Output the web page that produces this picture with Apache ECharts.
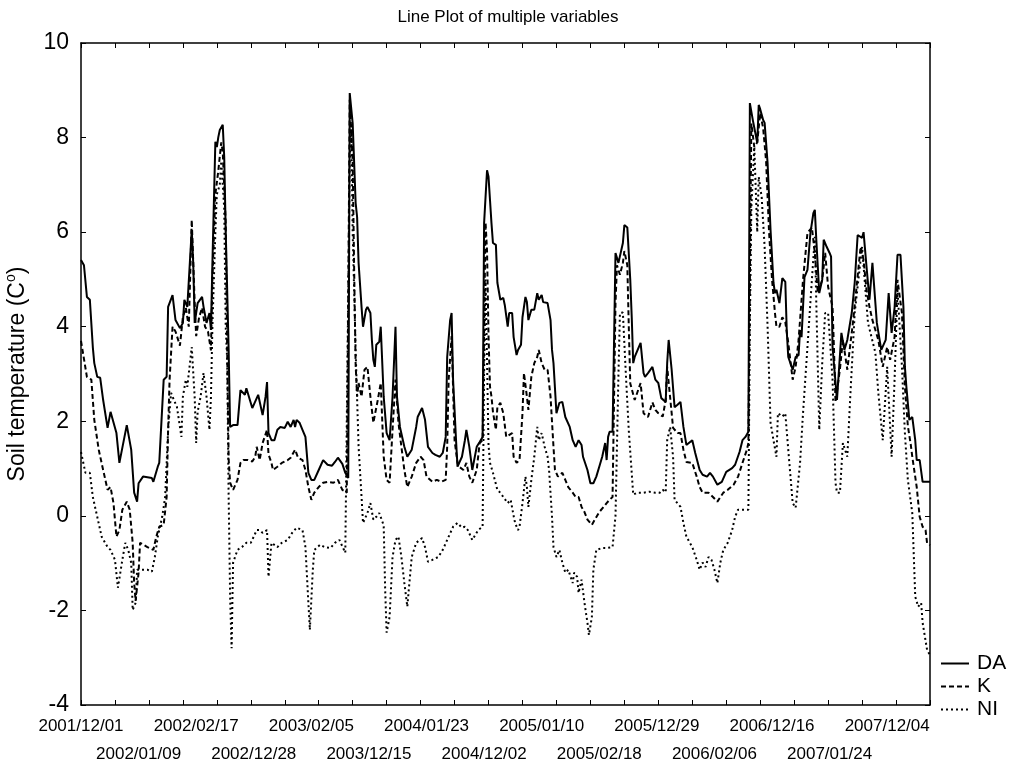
<!DOCTYPE html>
<html><head><meta charset="utf-8">
<script src="https://cdn.jsdelivr.net/npm/echarts/dist/echarts.min.js"></script>
<style>html,body{margin:0;padding:0;background:#fff}#chart{width:1016px;height:762px}</style>
</head><body><div id="chart"></div>
<script>
// Winter seasons covered by the daily series (one category per day)
const seasons = [
  ['2001-12-01','2002-02-28'], ['2002-12-01','2003-02-28'], ['2003-11-30','2004-02-29'],
  ['2004-12-01','2005-02-28'], ['2005-12-01','2006-02-28'], ['2006-11-30','2007-02-28'],
  ['2007-12-01','2008-01-02']
];
const seriesNames = ['DA', 'K', 'NI'];
const yTicks = {min: -4, max: 10, step: 2};

// [day index, value]
const daData = [[0,5.41],[2,5.3],[4,4.63],[6,4.57],[7,4.57],[8,3.57],[9,3.23],[11,2.94],[13,2.92],[15,2.45],[18,1.86],[20,2.2],[21,2.17],[24,1.75],[26,1.12],[31,1.92],[34,1.4],[36,0.49],[38,0.3],[39,0.69],[42,0.83],[48,0.8],[49,0.72],[52,1.04],[53,1.12],[56,2.88],[58,2.94],[59,4.42],[62,4.67],[64,4.14],[67,3.97],[69,4.08],[70,4.57],[72,4.42],[75,6.05],[76,5.35],[77,4.08],[79,4.5],[82,4.63],[83,4.42],[85,4.08],[87,4.29],[88,3.93],[89,5.35],[91,7.91],[92,7.8],[93,8.01],[94,8.16],[96,8.27],[97,7.59],[98,6.05],[100,3.5],[101,1.88],[103,1.92],[106,1.92],[108,2.66],[109,2.7],[111,2.56],[112,2.7],[116,2.28],[120,2.56],[123,2.13],[125,2.52],[126,2.83],[127,1.75],[129,1.6],[131,1.6],[133,1.82],[135,1.88],[138,1.86],[140,1.99],[142,1.88],[144,2.03],[145,1.88],[146,2.03],[148,1.97],[150,1.82],[152,1.67],[154,0.91],[156,0.76],[158,0.76],[161,0.97],[164,1.18],[167,1.08],[170,1.06],[172,1.14],[174,1.23],[177,1.1],[179,0.91],[181,0.8],[182,8.94],[184,8.3],[186,6.62],[187,6.32],[188,5.35],[190,4.42],[191,4.0],[193,4.36],[194,4.42],[196,4.29],[197,3.72],[198,3.3],[199,3.15],[200,3.62],[202,3.68],[203,4.0],[205,2.52],[207,1.75],[209,1.6],[211,2.52],[213,4.0],[214,2.52],[216,1.88],[219,1.46],[221,1.25],[224,1.4],[227,1.88],[228,2.09],[231,2.28],[233,2.03],[235,1.46],[238,1.33],[240,1.29],[241,1.33],[243,1.25],[245,1.33],[247,1.67],[248,3.36],[250,4.14],[251,4.29],[252,2.88],[254,1.6],[255,1.04],[258,1.25],[260,1.6],[261,1.82],[263,1.46],[265,0.97],[268,1.46],[270,1.56],[272,1.67],[273,6.19],[275,7.31],[276,7.17],[277,6.68],[278,6.19],[279,5.77],[281,5.73],[282,4.93],[284,4.57],[286,4.61],[287,4.46],[289,4.0],[290,4.29],[292,4.29],[293,3.78],[295,3.4],[296,3.51],[298,3.62],[299,4.2],[301,4.63],[302,4.52],[303,4.14],[305,4.36],[307,4.36],[309,4.71],[310,4.57],[312,4.67],[313,4.52],[316,4.5],[318,4.14],[319,3.51],[320,3.23],[322,2.17],[324,2.39],[326,2.41],[328,2.09],[329,2.07],[331,1.88],[333,1.6],[335,1.46],[337,1.6],[339,1.5],[340,1.25],[343,0.97],[345,0.69],[347,0.69],[349,0.83],[351,1.04],[353,1.25],[355,1.54],[356,1.18],[357,1.67],[358,1.78],[360,1.78],[362,5.56],[364,5.35],[367,5.77],[368,6.15],[370,6.1],[372,4.99],[373,4.2],[374,3.23],[375,3.36],[379,3.66],[381,3.02],[382,2.94],[384,3.02],[387,3.15],[389,2.88],[391,2.81],[393,2.49],[396,2.41],[397,3.23],[398,3.72],[400,3.1],[402,2.3],[404,2.35],[406,2.41],[408,1.88],[410,1.5],[414,1.6],[416,1.33],[419,0.97],[421,0.87],[424,0.83],[426,0.91],[428,0.83],[431,0.66],[432,0.7],[434,0.72],[437,0.93],[441,1.01],[443,1.08],[446,1.35],[448,1.6],[450,1.67],[452,1.78],[453,8.73],[455,8.37],[458,7.89],[459,8.69],[460,8.6],[462,8.37],[463,8.31],[465,7.46],[467,6.05],[469,4.93],[470,4.71],[471,4.78],[473,4.5],[475,5.03],[477,4.95],[478,3.9],[479,3.36],[482,3.09],[484,3.36],[486,3.4],[487,3.93],[488,3.78],[490,5.05],[492,5.2],[494,5.98],[496,6.4],[497,6.47],[498,5.84],[500,4.71],[502,4.99],[503,5.84],[505,5.69],[507,5.56],[508,5.48],[509,3.57],[512,2.45],[515,3.87],[517,3.51],[519,3.72],[522,4.29],[524,4.93],[526,5.94],[529,5.88],[530,6.0],[532,5.27],[534,4.57],[536,5.35],[539,4.08],[542,3.51],[545,3.72],[547,4.71],[549,3.87],[551,4.4],[553,5.52],[555,5.52],[557,4.42],[558,3.15],[559,2.73],[561,2.03],[563,2.09],[565,1.6],[566,1.18],[568,1.18],[570,0.72],[575,0.72]];

const kData = [[0,3.7],[1,3.66],[4,2.94],[7,2.88],[9,2.03],[12,1.4],[15,0.97],[18,0.55],[20,0.61],[22,0.27],[24,-0.44],[26,-0.3],[28,0.13],[31,0.3],[33,0.13],[35,-0.57],[36,-1.42],[37,-1.8],[39,-1.2],[40,-0.57],[45,-0.66],[49,-0.72],[51,-0.44],[53,-0.23],[56,-0.19],[58,0.4],[59,1.82],[60,2.88],[62,4.0],[64,3.9],[67,3.6],[69,4.2],[71,4.4],[73,4.0],[75,6.26],[77,4.5],[78,3.8],[80,4.2],[82,4.4],[84,4.0],[86,3.9],[88,3.5],[89,5.0],[91,6.8],[93,7.3],[95,7.9],[96,7.7],[98,6.2],[99,3.5],[100,1.2],[101,0.7],[103,0.55],[106,0.76],[108,1.12],[110,1.18],[113,1.18],[116,1.15],[118,1.25],[119,1.46],[121,1.18],[123,1.54],[126,1.82],[127,1.3],[129,1.12],[130,0.97],[133,1.04],[136,1.12],[140,1.18],[142,1.23],[145,1.4],[147,1.23],[150,1.18],[152,0.97],[154,0.61],[156,0.34],[158,0.49],[161,0.61],[164,0.7],[167,0.72],[171,0.7],[174,0.76],[177,0.55],[180,0.49],[182,8.8],[184,7.5],[185,5.2],[186,3.2],[187,2.52],[188,2.81],[190,2.52],[192,3.09],[194,3.15],[196,2.52],[198,1.97],[199,1.97],[201,2.45],[203,2.81],[205,1.25],[207,0.76],[209,0.7],[211,1.82],[213,2.88],[215,1.97],[217,1.46],[219,0.97],[221,0.61],[224,0.83],[227,1.12],[230,1.25],[232,1.18],[234,0.83],[238,0.72],[241,0.76],[244,0.72],[247,0.76],[248,1.46],[249,2.88],[251,3.8],[253,1.6],[255,1.12],[256,1.04],[259,0.97],[261,1.12],[263,0.83],[265,0.7],[268,0.97],[270,1.54],[272,1.6],[274,6.2],[275,5.6],[276,3.8],[277,2.73],[278,2.52],[279,2.2],[281,1.82],[282,2.3],[284,2.39],[286,2.17],[288,1.67],[289,1.67],[292,1.75],[293,1.25],[295,1.12],[297,1.18],[299,2.17],[300,3.02],[302,2.52],[303,2.24],[305,2.94],[307,3.23],[309,3.36],[310,3.51],[312,3.23],[314,3.09],[316,3.09],[318,2.52],[320,1.46],[321,0.97],[323,0.83],[326,0.91],[328,0.76],[330,0.61],[333,0.49],[335,0.4],[337,0.4],[339,0.19],[341,0.08],[343,-0.08],[346,-0.19],[348,-0.08],[351,0.08],[354,0.19],[356,0.27],[358,0.34],[360,0.4],[362,4.5],[363,5.3],[365,5.1],[367,5.35],[368,5.6],[370,5.3],[371,4.0],[372,2.8],[375,2.45],[379,2.81],[381,2.17],[384,2.09],[387,2.4],[389,2.24],[391,2.17],[394,2.1],[396,2.45],[397,3.15],[398,3.15],[401,1.86],[404,1.75],[406,1.75],[408,1.4],[410,1.14],[414,1.12],[417,0.83],[419,0.61],[421,0.49],[425,0.49],[428,0.4],[431,0.3],[435,0.49],[438,0.55],[442,0.66],[445,0.83],[448,1.12],[451,1.4],[452,1.54],[454,8.3],[456,7.8],[458,7.9],[460,8.52],[462,8.2],[464,7.5],[466,6.0],[468,5.0],[470,4.29],[471,4.0],[473,4.0],[475,4.2],[477,4.1],[479,3.66],[482,2.88],[484,3.15],[486,3.72],[489,4.99],[492,5.98],[495,6.1],[497,5.56],[499,4.71],[502,4.99],[504,5.56],[506,4.84],[509,4.42],[510,3.5],[511,2.4],[514,3.1],[516,3.72],[519,3.09],[523,4.14],[528,5.69],[530,5.41],[532,4.78],[534,4.42],[536,4.14],[540,3.72],[543,3.15],[546,3.57],[548,3.3],[551,3.78],[553,4.99],[556,4.29],[558,2.73],[560,1.9],[562,1.5],[563,1.25],[566,0.61],[568,-0.02],[570,-0.23],[572,-0.3],[573,-0.57],[575,-0.62]];

const niData = [[0,1.35],[3,0.91],[6,0.91],[8,0.4],[11,-0.02],[14,-0.44],[18,-0.66],[20,-0.72],[23,-0.93],[25,-1.52],[28,-0.93],[30,-0.57],[32,-0.72],[34,-0.99],[35,-1.99],[37,-1.84],[38,-1.14],[40,-1.14],[45,-1.14],[48,-1.18],[50,-0.87],[52,-0.44],[55,-0.02],[57,0.4],[59,1.82],[61,2.6],[62,2.52],[65,2.3],[67,1.88],[68,1.67],[69,2.52],[71,2.88],[72,2.73],[75,3.57],[77,2.5],[78,1.54],[79,2.2],[81,2.52],[83,3.02],[85,2.52],[87,1.82],[88,2.5],[89,4.0],[91,6.0],[92,6.8],[94,7.0],[95,7.5],[97,6.5],[98,4.0],[99,3.3],[100,0.4],[101,-1.71],[102,-2.8],[103,-0.99],[106,-0.72],[109,-0.66],[112,-0.57],[115,-0.57],[117,-0.44],[119,-0.3],[121,-0.3],[123,-0.36],[126,-0.3],[127,-1.29],[129,-0.57],[133,-0.66],[136,-0.57],[140,-0.51],[143,-0.36],[146,-0.25],[150,-0.3],[152,-0.66],[154,-1.84],[155,-2.41],[157,-1.14],[158,-0.72],[162,-0.61],[165,-0.66],[169,-0.68],[172,-0.57],[175,-0.51],[179,-0.78],[180,-0.8],[182,7.5],[183,8.3],[184,6.0],[186,3.5],[188,1.46],[190,0.4],[191,-0.15],[194,0.06],[196,0.27],[198,-0.08],[200,-0.02],[202,0.06],[205,-0.2],[206,-1.56],[207,-2.47],[209,-2.14],[211,-0.87],[213,-0.51],[215,-0.44],[217,-0.87],[219,-1.42],[221,-1.92],[222,-1.56],[224,-0.87],[227,-0.57],[231,-0.47],[233,-0.66],[235,-0.97],[238,-0.93],[242,-0.87],[245,-0.72],[249,-0.44],[252,-0.23],[255,-0.15],[258,-0.25],[260,-0.23],[262,-0.3],[265,-0.51],[269,-0.3],[272,-0.23],[273,3.0],[274,5.0],[276,1.5],[277,1.12],[279,0.91],[282,0.55],[284,0.49],[286,0.4],[289,0.27],[291,0.34],[293,0.0],[294,-0.15],[296,-0.3],[297,-0.23],[299,0.27],[301,0.83],[302,0.61],[303,0.19],[305,0.76],[307,1.25],[309,1.88],[310,1.6],[312,1.75],[314,1.46],[316,1.25],[317,0.97],[319,-0.02],[320,-0.66],[322,-0.87],[324,-0.72],[326,-0.99],[328,-1.2],[330,-1.14],[333,-1.42],[334,-1.2],[336,-1.29],[337,-1.63],[339,-1.35],[341,-1.84],[343,-2.26],[344,-2.52],[346,-2.14],[347,-1.14],[349,-0.72],[353,-0.68],[356,-0.68],[360,-0.66],[362,0.0],[364,3.0],[365,4.29],[367,4.3],[369,3.0],[371,1.8],[374,0.45],[377,0.49],[381,0.49],[385,0.51],[389,0.49],[392,0.49],[394,0.55],[396,0.5],[397,1.6],[399,1.88],[401,1.25],[402,0.34],[406,0.19],[408,-0.15],[410,-0.44],[414,-0.66],[417,-0.93],[419,-1.14],[421,-0.99],[423,-1.08],[425,-0.87],[427,-0.93],[429,-1.14],[431,-1.42],[433,-0.99],[435,-0.72],[438,-0.57],[441,-0.3],[443,-0.02],[445,0.13],[448,0.13],[452,0.13],[453,4.0],[454,6.5],[456,7.8],[458,6.0],[459,7.17],[461,6.74],[463,5.69],[465,4.0],[467,1.97],[469,1.6],[471,1.25],[472,2.17],[475,2.1],[477,2.17],[479,1.4],[482,0.27],[484,0.17],[485,0.13],[487,1.12],[489,2.17],[492,3.57],[495,4.99],[497,5.9],[498,4.5],[500,1.82],[502,3.23],[504,4.29],[506,4.29],[509,2.88],[511,0.7],[512,0.49],[514,0.49],[516,1.54],[519,1.25],[521,2.52],[524,4.29],[529,5.69],[533,4.08],[538,3.45],[540,2.6],[543,1.6],[546,3.15],[549,1.25],[551,2.88],[553,4.78],[556,3.15],[558,1.75],[560,0.76],[563,0.06],[565,-1.71],[567,-1.92],[569,-1.84],[570,-2.26],[573,-2.83],[575,-2.95]];

function buildCategories() {
  const out = [];
  const pad = n => String(n).padStart(2, '0');
  seasons.forEach(([a, b]) => {
    const d = new Date(a + 'T00:00:00Z'), end = new Date(b + 'T00:00:00Z');
    while (d <= end) {
      out.push(d.getUTCFullYear() + '/' + pad(d.getUTCMonth() + 1) + '/' + pad(d.getUTCDate()));
      d.setUTCDate(d.getUTCDate() + 1);
    }
  });
  return out;
}
const categories = buildCategories();

const FONT = "'Liberation Sans', Arial, sans-serif";
const BLACK = '#000';
const LABEL_STEP = 39, TICK_STEP = 23;
const LAST_LABEL = 546;

const chart = echarts.init(document.getElementById('chart'), null, {renderer: 'canvas'});
const axisLine = {show: true, onZero: false, lineStyle: {color: BLACK, width: 1.5}};
const tickStyle = {show: true, inside: true, length: 5, interval: TICK_STEP - 1, lineStyle: {color: BLACK, width: 1}};
const labelBase = {fontFamily: FONT, fontSize: 17, color: BLACK, hideOverlap: false};
const isLabel = (i, parity) => i % LABEL_STEP === 0 && i <= LAST_LABEL && (i / LABEL_STEP) % 2 === parity;

const option = {
  animation: false,
  backgroundColor: '#fff',
  textStyle: {fontFamily: FONT, color: BLACK},
  title: {
    text: 'Line Plot of multiple variables', left: 'center', top: 4,
    textStyle: {fontFamily: FONT, fontSize: 17, fontWeight: 'normal', color: BLACK}
  },
  legend: {
    orient: 'vertical', left: 935, top: 648, itemWidth: 28, itemHeight: 12, itemGap: 2,
    data: seriesNames,
    itemStyle: {opacity: 0},
    textStyle: {fontFamily: FONT, fontSize: 21, color: BLACK, padding: [0, 0, 0, 3]}
  },
  grid: {left: 81, right: 86, top: 43, bottom: 57, containLabel: false, outerBoundsMode: 'none'},
  xAxis: [{
    type: 'category', data: categories, boundaryGap: false, position: 'bottom',
    axisLine, axisTick: tickStyle,
    axisLabel: Object.assign({}, labelBase, {margin: 13, interval: i => isLabel(i, 0)}),
    splitLine: {show: false}
  }, {
    type: 'category', data: categories, boundaryGap: false, position: 'top',
    axisLine, axisTick: tickStyle,
    axisLabel: {show: false}, splitLine: {show: false}
  }, {
    type: 'category', data: categories, boundaryGap: false, position: 'bottom',
    axisLine: {show: false}, axisTick: {show: false},
    axisLabel: Object.assign({}, labelBase, {margin: 41, interval: i => isLabel(i, 1)}),
    splitLine: {show: false}
  }],
  yAxis: [{
    type: 'value', min: yTicks.min, max: yTicks.max, interval: yTicks.step, position: 'left',
    axisLine,
    axisTick: {show: true, inside: true, length: 5, lineStyle: {color: BLACK, width: 1}},
    axisLabel: {fontFamily: FONT, fontSize: 23, color: BLACK, margin: 12, showMinLabel: true, showMaxLabel: true},
    splitLine: {show: false},
    name: '{a|Soil temperature (C}{s|o}{a|)}', nameLocation: 'middle', nameGap: 50,
    nameTextStyle: {
      fontFamily: FONT, color: BLACK,
      rich: {
        a: {fontFamily: FONT, fontSize: 23, color: BLACK, lineHeight: 27},
        s: {fontFamily: FONT, fontSize: 14, color: BLACK, lineHeight: 27, verticalAlign: 'top', padding: [0, 0, 11, 0]}
      }
    }
  }, {
    type: 'value', min: yTicks.min, max: yTicks.max, interval: yTicks.step, position: 'right',
    axisLine,
    axisTick: {show: true, inside: true, length: 5, lineStyle: {color: BLACK, width: 1}},
    axisLabel: {show: false}, splitLine: {show: false}
  }],
  series: [
    {name: 'DA', type: 'line', data: daData, symbol: 'none', xAxisIndex: 0, yAxisIndex: 0,
     lineStyle: {color: BLACK, width: 2, type: 'solid'}, itemStyle: {color: BLACK}, z: 4},
    {name: 'K', type: 'line', data: kData, symbol: 'none', xAxisIndex: 0, yAxisIndex: 0,
     lineStyle: {color: BLACK, width: 2, type: [5, 3]}, itemStyle: {color: BLACK}, z: 3},
    {name: 'NI', type: 'line', data: niData, symbol: 'none', xAxisIndex: 0, yAxisIndex: 0,
     lineStyle: {color: BLACK, width: 2, type: [2, 3]}, itemStyle: {color: BLACK}, z: 2}
  ]
};
chart.setOption(option);
</script>
</body></html>
